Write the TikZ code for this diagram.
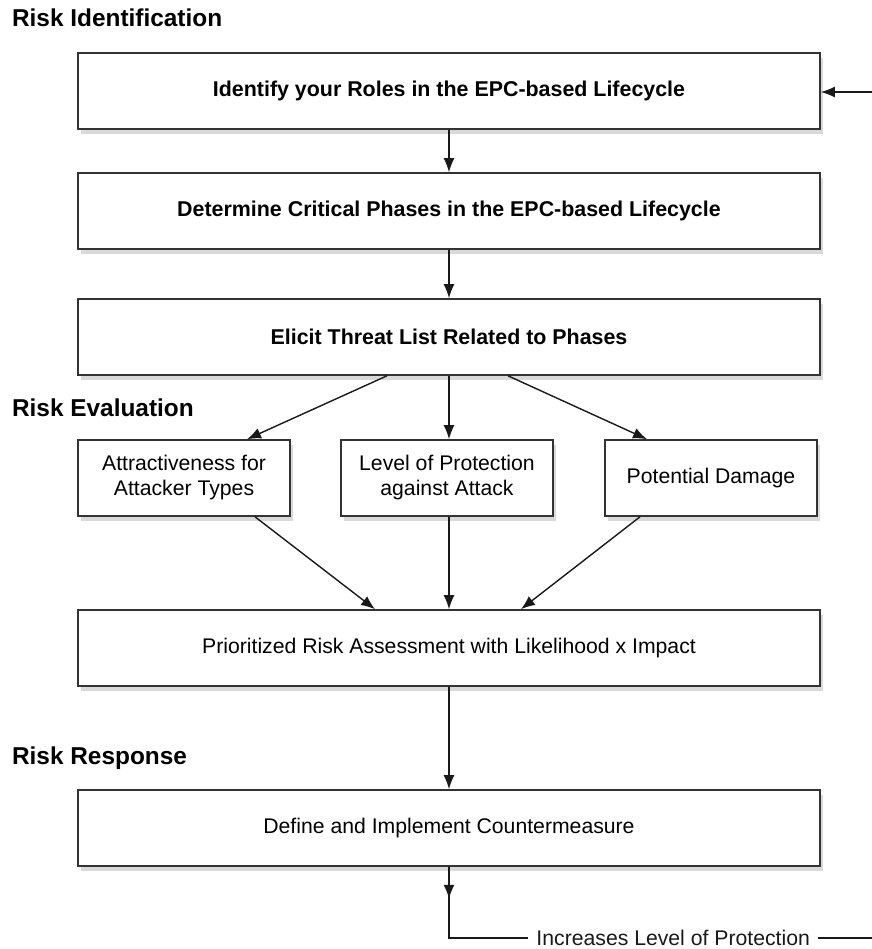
\documentclass[tikz,border=0pt]{standalone}
\usepackage{fontspec}
\setmainfont{Liberation Sans}
\usetikzlibrary{arrows.meta,shadows}

\tikzset{
  phase/.style={draw=black!80,line width=0.8pt,fill=white,minimum width=371pt,minimum height=38pt,
    font=\fontsize{10.7}{12.5}\selectfont\bfseries,
    drop shadow={shadow xshift=1.5pt,shadow yshift=-2.5pt,opacity=0.3}},
  step box/.style={phase,font=\fontsize{10.6}{12.5}\selectfont},
  factor/.style={step box,minimum width=106pt,align=center},
  heading/.style={anchor=west,font=\fontsize{12.2}{14}\selectfont\bfseries},
  arr/.style={-{Latex[length=7pt,width=5.5pt]},line width=0.7pt,black!90}
}

\begin{document}
\begin{tikzpicture}[x=0.5pt,y=-0.5pt]
\useasboundingbox (0,0) rectangle (872,949);
% headings
\node[heading] (hId) at (5,18) {Risk Identification};
\node[heading] (hEv) at (5,408) {Risk Evaluation};
\node[heading] (hRe) at (5,758) {Risk Response};
% boxes
\node[phase] (roles) at (449,91) {Identify your Roles in the EPC-based Lifecycle};
\node[phase] (crit) at (449,211) {Determine Critical Phases in the EPC-based Lifecycle};
\node[phase] (threat) at (449,337) {Elicit Threat List Related to Phases};
\node[factor] (attr) at (184,478) {Attractiveness for\\Attacker Types};
\node[factor] (prot) at (447,478) {Level of Protection\\against Attack};
\node[factor] (dmg) at (711,478) {Potential Damage};
\node[step box] (prio) at (449,648) {Prioritized Risk Assessment with Likelihood x Impact};
\node[step box] (counter) at (449,828) {Define and Implement Countermeasure};
% arrows
\draw[arr] (roles) -- (crit);
\draw[arr] (crit) -- (threat);
\draw[arr] ([xshift=-31pt]threat.south) -- ([xshift=31.5pt]attr.north);
\draw[arr] (threat.south) -- (threat.south |- prot.north);
\draw[arr] ([xshift=29.5pt]threat.south) -- ([xshift=-32pt]dmg.north);
\draw[arr] ([xshift=35.5pt]attr.south) -- ([xshift=-37pt]prio.north);
\draw[arr] (prot.south -| prio.north) -- (prio.north);
\draw[arr] ([xshift=-35.5pt]dmg.south) -- ([xshift=36pt]prio.north);
\draw[arr] (prio) -- (counter);
% feedback loop
\coordinate (loopB) at (872,938);
\coordinate (loopT) at (872,92);
\draw[arr] (counter.south) -- ++(0,32);
\draw[line width=0.7pt,black!90] (counter.south) |- node[pos=0.765,fill=white,inner sep=4pt,font=\fontsize{10.6}{12.5}\selectfont] (incr) {Increases Level of Protection} (loopB);
\draw[arr] (loopT) -- (loopT -| roles.east);
\end{tikzpicture}
\end{document}
